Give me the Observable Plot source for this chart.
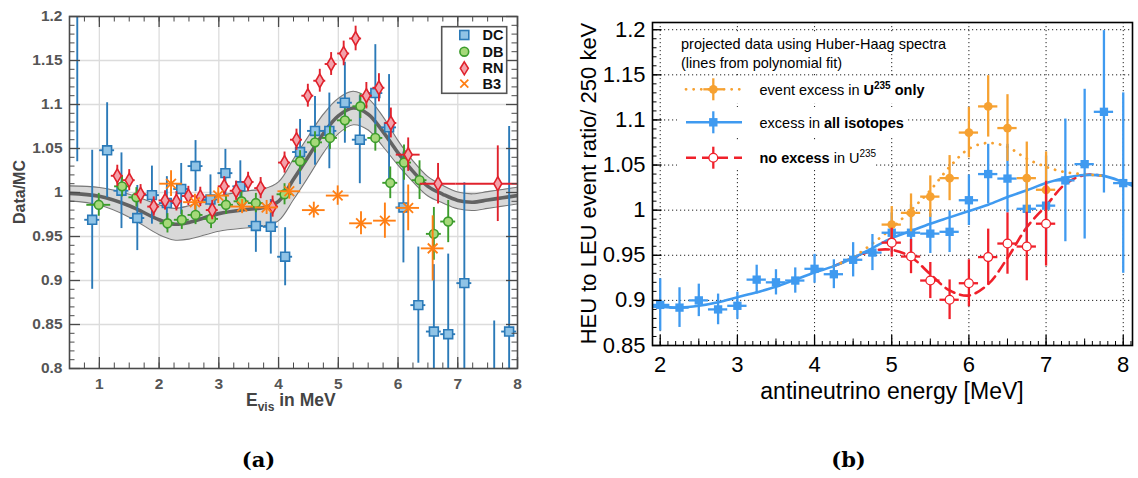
<!DOCTYPE html>
<html><head><meta charset="utf-8">
<script src="https://cdn.jsdelivr.net/npm/d3@7"></script>
<script src="https://cdn.jsdelivr.net/npm/@observablehq/plot@0.6"></script>
<style>
body{margin:0;background:#fff;}
#wrap{position:relative;width:1138px;height:478px;overflow:hidden;background:#fff;font-family:"Liberation Sans",Arial,sans-serif;}
.pane{position:absolute;top:0;}
#overlay{position:absolute;left:0;top:0;}
</style></head><body><div id="wrap"><div id="pa" class="pane" style="left:0px"></div><div id="pb" class="pane" style="left:570px"></div></div>
<script>
// ================= Panel (a): Data/MC ratios =================
const dcE   = [0.63,0.88,1.13,1.37,1.635,1.88,2.13,2.37,2.61,2.86,3.11,3.36,3.62,3.87,4.11,4.36,4.61,4.85,5.11,5.36,5.62,5.85,6.09,6.34,6.60,6.84,7.11,7.61,7.86];
const dcV   = [1.26,0.969,1.048,1.002,0.971,0.997,0.988,1.004,1.030,0.992,1.022,1.007,0.962,0.961,0.927,1.046,1.070,1.070,1.102,1.060,1.113,1.074,0.983,0.872,0.842,0.839,0.897,0.70,0.842];
const dcErr = [0.225,0.079,0.054,0.043,0.037,0.033,0.030,0.029,0.029,0.028,0.027,0.029,0.030,0.031,0.033,0.037,0.039,0.043,0.046,0.050,0.055,0.060,0.063,0.066,0.076,0.091,0.114,0.154,0.233];

const dbE   = [0.99,1.38,1.62,2.14,2.38,2.61,2.87,3.12,3.38,3.62,4.10,4.36,4.61,4.86,5.11,5.37,5.62,5.87,6.10,6.36,6.60,6.84];
const dbV   = [0.986,1.007,0.9945,0.965,0.969,0.9745,0.970,0.986,0.990,0.988,0.998,1.0355,1.057,1.062,1.082,1.098,1.062,1.011,1.034,1.014,0.953,0.967];
const dbErr = [0.013,0.012,0.011,0.011,0.011,0.011,0.011,0.011,0.011,0.011,0.012,0.012,0.012,0.013,0.013,0.014,0.015,0.018,0.020,0.022,0.030,0.024];
const dbW   = [0.2,0.125,0.125,0.125,0.125,0.125,0.125,0.125,0.125,0.125,0.125,0.125,0.125,0.125,0.125,0.125,0.125,0.125,0.125,0.125,0.125,0.125];

const rnE   = [1.30,1.50,1.69,1.91,2.10,2.29,2.49,2.69,2.89,3.09,3.29,3.49,3.70,3.90,4.10,4.30,4.49,4.69,4.88,5.09,5.29,5.47,5.68,5.88,6.17,6.67,7.67];
const rnV   = [1.019,1.014,0.998,0.984,0.991,0.990,0.996,0.995,0.980,1.007,1.002,1.012,1.005,0.984,1.034,1.060,1.110,1.127,1.146,1.158,1.175,1.110,1.119,1.079,1.043,1.010,1.010];
const rnErr = [0.012,0.012,0.011,0.011,0.011,0.011,0.011,0.011,0.011,0.011,0.011,0.011,0.012,0.012,0.012,0.012,0.013,0.013,0.013,0.014,0.014,0.015,0.016,0.017,0.019,0.023,0.043];
const rnW   = [0.1,0.1,0.1,0.1,0.1,0.1,0.1,0.1,0.1,0.1,0.1,0.1,0.1,0.1,0.1,0.1,0.1,0.1,0.1,0.1,0.1,0.1,0.1,0.1,0.2,0.3,0.7];

const b3E   = [2.20,2.60,2.99,3.39,3.80,4.18,4.59,4.99,5.38,5.78,6.17,6.58];
const b3V   = [1.010,0.989,0.9965,0.984,0.983,1.0014,0.980,0.9965,0.965,0.968,0.9825,0.9365];
const b3Err = [0.0146,0.009,0.009,0.008,0.008,0.009,0.009,0.011,0.013,0.020,0.026,0.037];

const fitE     = [0.5,1,1.5,2,2.25,2.5,3,3.5,3.75,4,4.25,4.5,4.75,5,5.25,5.5,5.75,6,6.25,6.5,6.75,7,7.25,7.5,7.75,8];
const fitV     = [0.999,0.9957,0.985,0.969,0.964,0.966,0.976,0.981,0.983,0.990,1.015,1.041,1.067,1.087,1.096,1.089,1.069,1.045,1.024,1.007,0.998,0.991,0.989,0.9915,0.994,0.9965];
const bandHalf = [0.0085,0.010,0.013,0.017,0.018,0.019,0.020,0.021,0.021,0.022,0.023,0.023,0.022,0.020,0.019,0.018,0.017,0.014,0.012,0.011,0.010,0.0095,0.0095,0.0095,0.0095,0.0095];

const legendA = ["DC","DB","RN","B3"];

// ================= Panel (b): HEU/LEU ratios =================
const blueE   = [2,2.25,2.5,2.75,3,3.25,3.5,3.75,4,4.25,4.5,4.75,5,5.25,5.5,5.75,6,6.25,6.5,6.75,7,7.25,7.5,7.75,8];
const blueV   = [0.895,0.892,0.900,0.890,0.894,0.923,0.920,0.922,0.935,0.929,0.945,0.953,0.975,0.975,0.974,0.976,1.011,1.040,1.035,1.0015,1.005,1.033,1.051,1.109,1.030];
const blueErr = [0.029,0.022,0.018,0.017,0.015,0.016,0.014,0.014,0.016,0.016,0.019,0.020,0.022,0.031,0.022,0.023,0.028,0.033,0.038,0.037,0.055,0.068,0.083,0.090,0.100];

const orangeE   = [5,5.25,5.5,5.75,6,6.25,6.5,6.75,7];
const orangeV   = [0.984,0.997,1.015,1.0355,1.086,1.115,1.091,1.0355,1.0226];
const orangeErr = [0.020,0.021,0.023,0.025,0.028,0.034,0.037,0.040,0.042];

const redE   = [5,5.25,5.5,5.75,6,6.25,6.5,6.75,7];
const redV   = [0.964,0.9486,0.922,0.9007,0.919,0.948,0.963,0.9597,0.985];
const redErr = [0.016,0.019,0.020,0.022,0.026,0.031,0.034,0.038,0.047];

const blueFitE = [1.9,2,2.25,2.5,2.75,3,3.25,3.5,3.75,4,4.25,4.5,4.75,5,5.25,5.5,5.75,6,6.25,6.5,6.75,7,7.25,7.5,7.75,8,8.12];
const blueFitV = [0.893,0.893,0.892,0.894,0.898,0.9035,0.909,0.915,0.923,0.931,0.938,0.947,0.958,0.969,0.977,0.985,0.992,0.999,1.006,1.0145,1.022,1.030,1.036,1.039,1.038,1.031,1.027];
const orangeFitE = [4.25,4.5,4.75,5,5.25,5.5,5.75,6,6.25,6.5,6.75,7,7.25,7.5,7.75];
const orangeFitV = [0.938,0.948,0.963,0.980,1.000,1.022,1.048,1.068,1.0745,1.070,1.057,1.048,1.042,1.040,1.038];
const redFitE = [4.25,4.5,4.75,5,5.25,5.5,5.75,6,6.25,6.5,6.75,7,7.25,7.5,7.75];
const redFitV = [0.938,0.947,0.955,0.956,0.948,0.929,0.911,0.9055,0.918,0.947,0.981,1.005,1.029,1.039,1.038];

// ================= build tables =================
const rows = (E, V, Err, W) => E.map((e, i) => ({E: e, v: V[i], e: Err ? Err[i] : 0, w: W ? W[i] : 0}));
const dc = rows(dcE, dcV, dcErr);
const db = rows(dbE, dbV, dbErr, dbW);
const rn = rows(rnE, rnV, rnErr, rnW);
const b3 = rows(b3E, b3V, b3Err);
const fitA = fitE.map((e, i) => ({E: e, v: fitV[i], h: bandHalf[i]}));
const blue = rows(blueE, blueV, blueErr);
const orange = rows(orangeE, orangeV, orangeErr);
const red = rows(redE, redV, redErr);
const blueFit = rows(blueFitE, blueFitV);
const orangeFit = rows(orangeFitE, orangeFitV);
const redFit = rows(redFitE, redFitV);

const fmt = d => String(+d.toFixed(2));
const col = {dcS:"#2b7ab8", dcF:"#8fc3e6", dbS:"#3c9c2c", dbF:"#a6d97a", rnS:"#e0222c", rnF:"#f3a1aa", b3:"#ff7f14",
             blue:"#3f9af0", orange:"#f6a131", red:"#f0202a"};

function errBars(data, color, sw, wConst) {
  return [
    Plot.ruleX(data, {x: "E", y1: d => d.v - d.e, y2: d => d.v + d.e, stroke: color, strokeWidth: sw, clip: true}),
    Plot.ruleY(data, {y: "v", x1: d => d.E - (wConst ?? d.w), x2: d => d.E + (wConst ?? d.w), stroke: color, strokeWidth: sw, clip: true})
  ];
}

// ---------- Panel (a) ----------
const AW = 560, AH = 410, AML = 69, AMR = 43, AMT = 16, AMB = 42;
const aIH = AH - AMT - AMB, aIW = AW - AML - AMR;
const xMajA = d3.range(1, 9);
const xMinA = d3.range(0.5, 8.001, 0.25);
const yMajA = d3.range(16, 25).map(d => d / 20);
const yMinA = d3.range(80, 121).map(d => d / 100);
const tkA = "#4a4a4a";

const plotA = Plot.plot({
  width: AW, height: AH, marginLeft: AML, marginRight: AMR, marginTop: AMT, marginBottom: AMB,
  x: {domain: [0.5, 8]}, y: {domain: [0.8, 1.2]},
  style: {background: "white", fontFamily: "Liberation Sans, Arial, sans-serif", overflow: "visible"},
  marks: [
    Plot.ruleX(xMajA.filter(d => d < 8), {stroke: "#dcdcdc", strokeWidth: 1.3}),
    Plot.ruleY(yMajA.filter(d => d > 0.8 && d < 1.2), {stroke: "#dcdcdc", strokeWidth: 1.3}),
    Plot.areaY(fitA, {x: "E", y1: d => d.v - d.h, y2: d => d.v + d.h, curve: "catmull-rom", fill: "#d8d8d8", clip: true}),
    Plot.line(fitA, {x: "E", y: d => d.v - d.h, curve: "catmull-rom", stroke: "#777", strokeWidth: 1.1, clip: true}),
    Plot.line(fitA, {x: "E", y: d => d.v + d.h, curve: "catmull-rom", stroke: "#777", strokeWidth: 1.1, clip: true}),
    Plot.line(fitA, {x: "E", y: "v", curve: "catmull-rom", stroke: "#626262", strokeWidth: 3.6, clip: true}),
    ...errBars(dc, col.dcS, 1.9, 0.125),
    Plot.dot(dc, {x: "E", y: "v", symbol: "square", r: 5, fill: col.dcF, stroke: col.dcS, strokeWidth: 1.6, clip: true}),
    ...errBars(db, col.dbS, 1.9),
    Plot.dot(db, {x: "E", y: "v", symbol: "circle", r: 4.4, fill: col.dbF, stroke: col.dbS, strokeWidth: 1.6, clip: true}),
    ...errBars(rn, col.rnS, 1.9),
    Plot.dot(rn, {x: "E", y: "v", symbol: "diamond", r: 4.2, fill: col.rnF, stroke: col.rnS, strokeWidth: 1.6, clip: true}),
    ...errBars(b3, col.b3, 1.9, 0.19),
    Plot.dot(b3, {x: "E", y: "v", symbol: "times", r: 4.5, stroke: col.b3, strokeWidth: 1.8, clip: true}),
    Plot.tickX(xMinA, {x: d => d, insetTop: aIH - 5.5, stroke: tkA}),
    Plot.tickX(xMajA, {x: d => d, insetTop: aIH - 11, stroke: tkA, strokeWidth: 1.3}),
    Plot.tickX(xMinA, {x: d => d, insetBottom: aIH - 5.5, stroke: tkA}),
    Plot.tickX(xMajA, {x: d => d, insetBottom: aIH - 11, stroke: tkA, strokeWidth: 1.3}),
    Plot.tickY(yMinA, {y: d => d, insetRight: aIW - 5.5, stroke: tkA}),
    Plot.tickY(yMajA, {y: d => d, insetRight: aIW - 11, stroke: tkA, strokeWidth: 1.3}),
    Plot.tickY(yMinA, {y: d => d, insetLeft: aIW - 5.5, stroke: tkA}),
    Plot.tickY(yMajA, {y: d => d, insetLeft: aIW - 11, stroke: tkA, strokeWidth: 1.3}),
    Plot.frame({stroke: tkA, strokeWidth: 1.6}),
    Plot.axisX(xMajA, {anchor: "bottom", tickSize: 0, tickPadding: 9, tickFormat: d => String(d), fontSize: 15.5, fontWeight: "bold", fill: "#555", label: null}),
    Plot.axisY(yMajA, {anchor: "left", tickSize: 0, tickPadding: 7, tickFormat: fmt, fontSize: 15.5, fontWeight: "bold", fill: "#555", label: null})
  ]
});
document.getElementById("pa").appendChild(plotA);

// ---------- Panel (b) ----------
const BW = 568, BH = 410, BML = 82, BMR = 6, BMT = 22, BMB = 65;
const bIH = BH - BMT - BMB;
const bIW = BW - BML - BMR;
const xMajB = d3.range(2, 9);
const xMidB = d3.range(2.5, 8, 1);
const xMinB = d3.range(19, 82).map(d => d / 10);
const yMajB = d3.range(17, 25).map(d => d / 20);
const yMinB = d3.range(85, 121).map(d => d / 100);

const plotB = Plot.plot({
  width: BW, height: BH, marginLeft: BML, marginRight: BMR, marginTop: BMT, marginBottom: BMB,
  x: {domain: [1.9, 8.12]}, y: {domain: [0.85, 1.208]},
  style: {background: "white", fontFamily: "Liberation Sans, Arial, sans-serif", overflow: "visible"},
  marks: [
    Plot.ruleX(xMajB, {stroke: "#222", strokeWidth: 1, strokeDasharray: "1.2 2.8"}),
    Plot.ruleY(yMajB.filter(d => d > 0.85), {stroke: "#222", strokeWidth: 1, strokeDasharray: "1.2 2.8"}),
    Plot.line(redFit, {x: "E", y: "v", curve: "catmull-rom", stroke: col.red, strokeWidth: 2.6, strokeDasharray: "10 6", clip: true}),
    Plot.line(blueFit, {x: "E", y: "v", curve: "catmull-rom", stroke: col.blue, strokeWidth: 2.6, clip: true}),
    Plot.line(orangeFit, {x: "E", y: "v", curve: "catmull-rom", stroke: col.orange, strokeWidth: 2.8, strokeDasharray: "0.1 7.5", strokeLinecap: "round", clip: true}),
    ...errBars(blue, col.blue, 2.3, 0.125),
    Plot.dot(blue, {x: "E", y: "v", symbol: "square", r: 4.7, fill: col.blue, clip: true}),
    ...errBars(orange, col.orange, 2.3, 0.125),
    Plot.dot(orange, {x: "E", y: "v", symbol: "circle", r: 4.4, fill: col.orange, clip: true}),
    ...errBars(red, col.red, 2.3, 0.125),
    Plot.dot(red, {x: "E", y: "v", symbol: "circle", r: 4.4, fill: "white", stroke: col.red, strokeWidth: 1.3, clip: true}),
    Plot.tickX(xMinB, {x: d => d, insetTop: bIH - 4, stroke: "#000"}),
    Plot.tickX(xMidB, {x: d => d, insetTop: bIH - 6.5, stroke: "#000"}),
    Plot.tickX(xMajB, {x: d => d, insetTop: bIH - 10, stroke: "#000", strokeWidth: 1.3}),
    Plot.tickY(yMinB, {y: d => d, insetRight: bIW - 4.5, stroke: "#000"}),
    Plot.tickY(yMajB, {y: d => d, insetRight: bIW - 9.5, stroke: "#000", strokeWidth: 1.3}),
    Plot.frame({stroke: "#000", strokeWidth: 1.6}),
    Plot.axisX(xMajB, {anchor: "bottom", tickSize: 0, tickPadding: 11, tickFormat: d => String(d), fontSize: 22, fill: "#000", label: null}),
    Plot.axisY(yMajB, {anchor: "left", tickSize: 0, tickPadding: 7, tickFormat: fmt, fontSize: 22, fill: "#000", label: null})
  ]
});
document.getElementById("pb").appendChild(plotB);

// ---------- overlay: axis titles, legends, captions ----------
const NS = "http://www.w3.org/2000/svg";
const ov = d3.select("#wrap").append("svg").attr("id", "overlay").attr("width", 1138).attr("height", 478)
  .style("font-family", "Liberation Sans, Arial, sans-serif");

// panel (a) titles
ov.append("text").attr("transform", "translate(25,192) rotate(-90)").attr("text-anchor", "middle")
  .attr("font-weight", "bold").attr("font-size", 16).attr("fill", "#444").text("Data/MC");
const ex = ov.append("text").attr("x", 246).attr("y", 406).attr("font-weight", "bold").attr("font-size", 17.5).attr("fill", "#444");
ex.append("tspan").text("E");
ex.append("tspan").attr("font-size", 12).attr("dy", 5).text("vis");
ex.append("tspan").attr("dy", -5).text(" in MeV");

// panel (a) legend
const la = ov.append("g");
la.append("rect").attr("x", 441.7).attr("y", 26.7).attr("width", 65).attr("height", 66.6)
  .attr("fill", "white").attr("stroke", "#555").attr("stroke-width", 1.6);
const lyA = [35, 51.7, 68.3, 83.6], mxA = 464.3;
la.append("rect").attr("x", mxA - 4.5).attr("y", lyA[0] - 4.5).attr("width", 9).attr("height", 9)
  .attr("fill", col.dcF).attr("stroke", col.dcS).attr("stroke-width", 1.6);
la.append("circle").attr("cx", mxA).attr("cy", lyA[1]).attr("r", 4.4).attr("fill", col.dbF).attr("stroke", col.dbS).attr("stroke-width", 1.6);
la.append("path").attr("d", `M${mxA},${lyA[2]-6.5}L${mxA+4},${lyA[2]}L${mxA},${lyA[2]+6.5}L${mxA-4},${lyA[2]}Z`)
  .attr("fill", col.rnF).attr("stroke", col.rnS).attr("stroke-width", 1.6);
la.append("path").attr("d", `M${mxA-4},${lyA[3]-4}L${mxA+4},${lyA[3]+4}M${mxA-4},${lyA[3]+4}L${mxA+4},${lyA[3]-4}`)
  .attr("stroke", col.b3).attr("stroke-width", 1.8);
legendA.forEach((t, i) => la.append("text").attr("x", 482.5).attr("y", lyA[i] + 5).attr("font-weight", "bold")
  .attr("font-size", 14.5).attr("fill", "#111").text(t));

// panel (b) titles
ov.append("text").attr("x", 892).attr("y", 399).attr("text-anchor", "middle").attr("font-size", 23).attr("fill", "#000")
  .text("antineutrino energy [MeV]");
ov.append("text").attr("transform", "translate(596,183.5) rotate(-90)").attr("text-anchor", "middle")
  .attr("font-size", 22).attr("fill", "#000").text("HEU to LEU event ratio/ 250 keV");

// panel (b) legend (white boxes behind text, as in the original)
const lb = ov.append("g");
[[677, 33, 274, 21], [677, 54, 166, 20], [677, 76, 250, 27], [677, 107, 231, 29], [677, 142, 199, 28]]
  .forEach(([x, y, w, h]) => lb.append("rect").attr("x", x).attr("y", y).attr("width", w).attr("height", h).attr("fill", "white"));
lb.append("text").attr("x", 681).attr("y", 49).attr("font-size", 14.5).attr("fill", "#000").text("projected data using Huber-Haag spectra");
lb.append("text").attr("x", 681).attr("y", 68).attr("font-size", 14.5).attr("fill", "#000").text("(lines from polynomial fit)");
const lx1 = 686, lx2 = 742, lmx = 713.3, lyB = [89.3, 122.3, 157.7];
// orange entry
lb.append("line").attr("x1", lx1).attr("x2", lx2).attr("y1", lyB[0]).attr("y2", lyB[0]).attr("stroke", col.orange)
  .attr("stroke-width", 2.8).attr("stroke-dasharray", "0.1 7.5").attr("stroke-linecap", "round");
lb.append("line").attr("x1", lmx).attr("x2", lmx).attr("y1", lyB[0] - 11).attr("y2", lyB[0] + 11).attr("stroke", col.orange).attr("stroke-width", 2.3);
lb.append("line").attr("x1", lmx - 10).attr("x2", lmx + 10).attr("y1", lyB[0]).attr("y2", lyB[0]).attr("stroke", col.orange).attr("stroke-width", 2.3);
lb.append("circle").attr("cx", lmx).attr("cy", lyB[0]).attr("r", 4.4).attr("fill", col.orange);
// blue entry
lb.append("line").attr("x1", lx1).attr("x2", lx2).attr("y1", lyB[1]).attr("y2", lyB[1]).attr("stroke", col.blue).attr("stroke-width", 2.6);
lb.append("line").attr("x1", lmx).attr("x2", lmx).attr("y1", lyB[1] - 11).attr("y2", lyB[1] + 11).attr("stroke", col.blue).attr("stroke-width", 2.3);
lb.append("rect").attr("x", lmx - 4.2).attr("y", lyB[1] - 4.2).attr("width", 8.4).attr("height", 8.4).attr("fill", col.blue);
// red entry
lb.append("line").attr("x1", lx1).attr("x2", lx2).attr("y1", lyB[2]).attr("y2", lyB[2]).attr("stroke", col.red)
  .attr("stroke-width", 2.6).attr("stroke-dasharray", "10 6");
lb.append("line").attr("x1", lmx).attr("x2", lmx).attr("y1", lyB[2] - 11).attr("y2", lyB[2] + 11).attr("stroke", col.red).attr("stroke-width", 2.3);
lb.append("circle").attr("cx", lmx).attr("cy", lyB[2]).attr("r", 4.4).attr("fill", "white").attr("stroke", col.red).attr("stroke-width", 1.3);
// entry texts
const t1 = lb.append("text").attr("x", 759.5).attr("y", lyB[0] + 5.2).attr("font-size", 14.5).attr("fill", "#000");
t1.append("tspan").text("event excess in ");
t1.append("tspan").attr("font-weight", "bold").text("U");
t1.append("tspan").attr("font-weight", "bold").attr("font-size", 10).attr("dy", -6).text("235");
t1.append("tspan").attr("font-weight", "bold").attr("dy", 6).text(" only");
const t2 = lb.append("text").attr("x", 759.5).attr("y", lyB[1] + 5.2).attr("font-size", 14.5).attr("fill", "#000");
t2.append("tspan").text("excess in ");
t2.append("tspan").attr("font-weight", "bold").text("all isotopes");
const t3 = lb.append("text").attr("x", 759.5).attr("y", lyB[2] + 5.2).attr("font-size", 14.5).attr("fill", "#000");
t3.append("tspan").attr("font-weight", "bold").text("no excess");
t3.append("tspan").text(" in U");
t3.append("tspan").attr("font-size", 10).attr("dy", -6).text("235");

// captions
ov.append("text").attr("x", 258.5).attr("y", 467).attr("text-anchor", "middle").attr("font-family", "DejaVu Serif, serif")
  .attr("font-weight", "bold").attr("font-size", 21).attr("fill", "#000").text("(a)");
ov.append("text").attr("x", 848.5).attr("y", 467).attr("text-anchor", "middle").attr("font-family", "DejaVu Serif, serif")
  .attr("font-weight", "bold").attr("font-size", 21).attr("fill", "#000").text("(b)");
</script></body></html>
